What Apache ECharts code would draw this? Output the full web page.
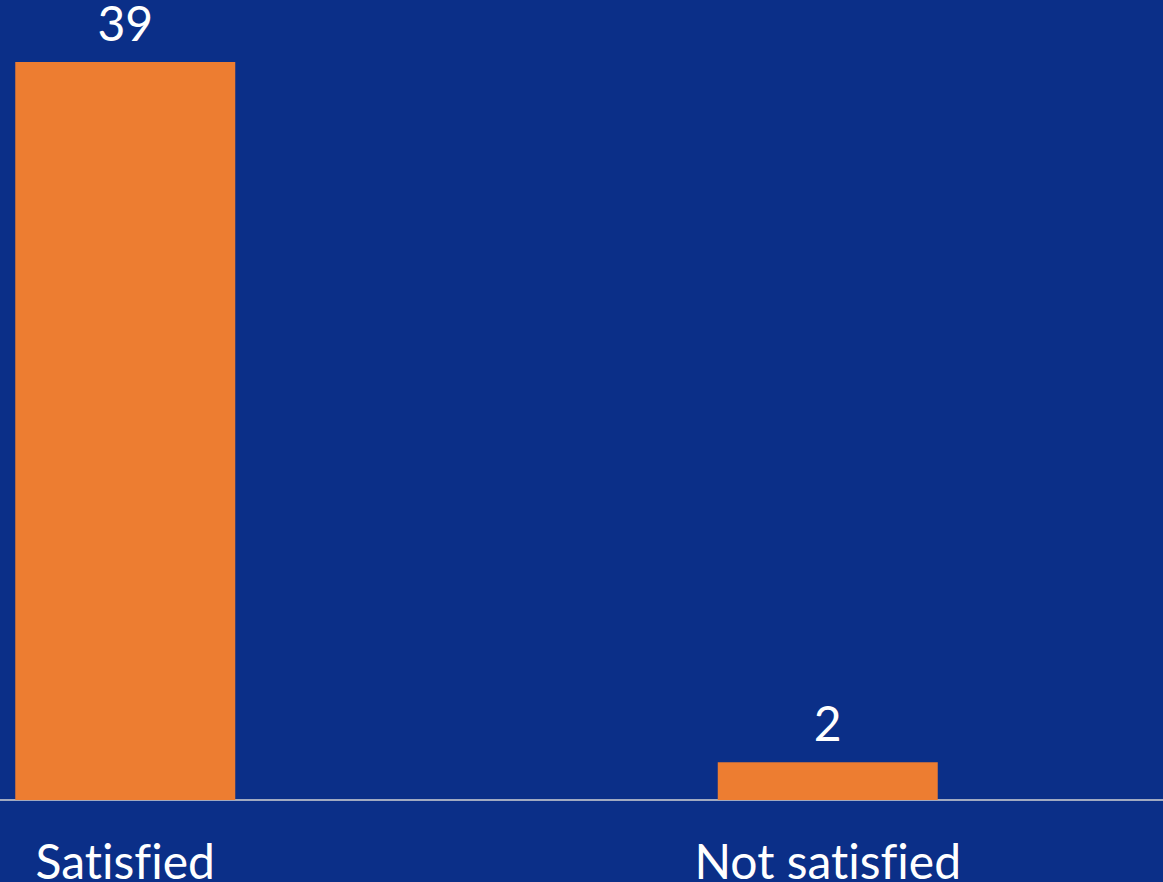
<!DOCTYPE html>
<html>
<head>
<meta charset="utf-8">
<script src="https://cdn.jsdelivr.net/npm/echarts@6/dist/echarts.min.js"></script>
<style>
  html, body { margin: 0; padding: 0; background: #0b2f88; overflow: hidden; }
  #wrap { width: 1163px; height: 882px; overflow: hidden; }
  /* the plot is wider than the window: the first band starts left of the edge */
  #chart { width: 1405px; height: 882px; margin-left: -226px; }
  #chart text { font-variant-ligatures: none; }
</style>
</head>
<body>
<div id="wrap"><div id="chart"></div></div>
<script>
const categories = ['Satisfied', 'Not satisfied'];
const counts = [39, 2];

const chart = echarts.init(document.getElementById('chart'), null, { renderer: 'svg' });
chart.setOption({
  backgroundColor: '#0b2f88',
  animation: false,
  grid: { left: 0, right: 0, top: 62, bottom: 82, containLabel: false, outerBoundsMode: 'none' },
  xAxis: {
    type: 'category',
    data: categories,
    axisLine: { lineStyle: { color: '#d4d4d4', width: 1.5 } },
    axisTick: { show: false },
    axisLabel: {
      color: '#ffffff',
      fontFamily: 'Lato',
      fontSize: 48,
      margin: 36
    }
  },
  yAxis: {
    type: 'value',
    min: 0,
    max: 39,
    show: false
  },
  series: [{
    type: 'bar',
    data: counts,
    barWidth: 220,
    itemStyle: { color: '#ed7d31' },
    label: {
      show: true,
      position: 'top',
      distance: 16,
      color: '#ffffff',
      fontFamily: 'Lato',
      fontSize: 48
    }
  }]
});
</script>
</body>
</html>
